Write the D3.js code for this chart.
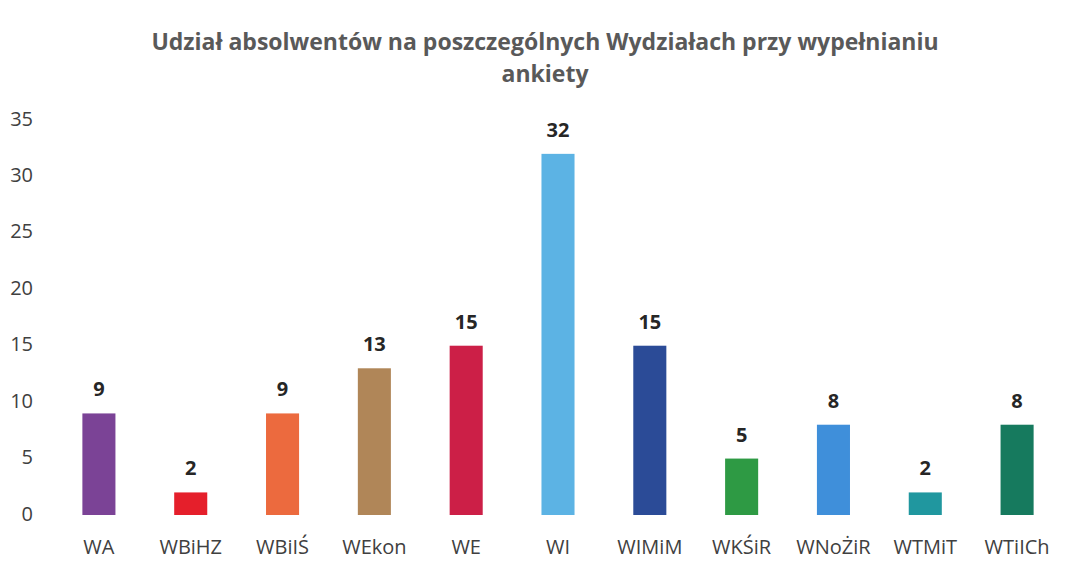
<!DOCTYPE html>
<html>
<head>
<meta charset="utf-8">
<script src="https://cdn.jsdelivr.net/npm/d3@7"></script>
<style>
  body { margin: 0; background: #fff; }
  svg { display: block; font-family: "Open Sans", "Noto Sans", sans-serif; }
</style>
</head>
<body>
<svg id="chart"></svg>
<script>
const faculties = ["WA", "WBiHZ", "WBiIŚ", "WEkon", "WE", "WI", "WIMiM", "WKŚiR", "WNoŻiR", "WTMiT", "WTiICh"];
const counts = [9, 2, 9, 13, 15, 32, 15, 5, 8, 2, 8];
const barColors = ["#7b4396", "#e51f2b", "#ec6a3e", "#b08658", "#cc1f47", "#5cb3e4", "#2b4b97", "#2e9a44", "#3f8fda", "#20979f", "#167a5e"];
const yTicks = [0, 5, 10, 15, 20, 25, 30, 35];
const titleLines = ["Udział absolwentów na poszczególnych Wydziałach przy wypełnianiu", "ankiety"];

const width = 1080, height = 573;
const margin = { top: 120, right: 17, bottom: 58, left: 53 };

const svg = d3.select("#chart")
    .attr("width", width)
    .attr("height", height);

const x = d3.scaleBand()
    .domain(faculties)
    .range([margin.left, width - margin.right])
    .paddingInner(0.64)
    .paddingOuter(0.32);

const y = d3.scaleLinear()
    .domain([0, 35])
    .range([height - margin.bottom, margin.top]);

// title
svg.append("g")
    .selectAll("text")
    .data(titleLines)
    .join("text")
    .attr("x", 545)
    .attr("y", (d, i) => 50 + i * 32)
    .attr("text-anchor", "middle")
    .style("font-size", "23px")
    .style("font-weight", "bold")
    .style("fill", "#595959")
    .text(d => d);

// y axis, no line
const yAxis = svg.append("g")
    .attr("transform", "translate(" + 33 + ",0)")
    .call(d3.axisLeft(y).tickValues(yTicks).tickSize(0).tickPadding(0));
yAxis.select(".domain").remove();
yAxis.selectAll("text")
    .attr("dy", "0.25em")
    .style("font-size", "20px")
    .style("font-family", "\"Open Sans\", sans-serif")
    .style("fill", "#404040");

// x axis labels
const xAxis = svg.append("g")
    .attr("transform", "translate(0," + (height - margin.bottom) + ")")
    .call(d3.axisBottom(x).tickSize(0).tickPadding(25));
xAxis.select(".domain").remove();
xAxis.selectAll("text")
    .style("font-size", "20px")
    .style("font-family", "\"Open Sans\", sans-serif")
    .style("fill", "#404040");

// bars
svg.append("g")
    .selectAll("rect")
    .data(counts)
    .join("rect")
    .attr("x", (d, i) => x(faculties[i]))
    .attr("y", d => y(d))
    .attr("width", x.bandwidth())
    .attr("height", d => y(0) - y(d))
    .attr("fill", (d, i) => barColors[i]);

// value labels
svg.append("g")
    .selectAll("text")
    .data(counts)
    .join("text")
    .attr("x", (d, i) => x(faculties[i]) + x.bandwidth() / 2)
    .attr("y", d => y(d) - 17)
    .attr("text-anchor", "middle")
    .style("font-size", "20px")
    .style("font-weight", "bold")
    .style("fill", "#262626")
    .text(d => d);
</script>
</body>
</html>
